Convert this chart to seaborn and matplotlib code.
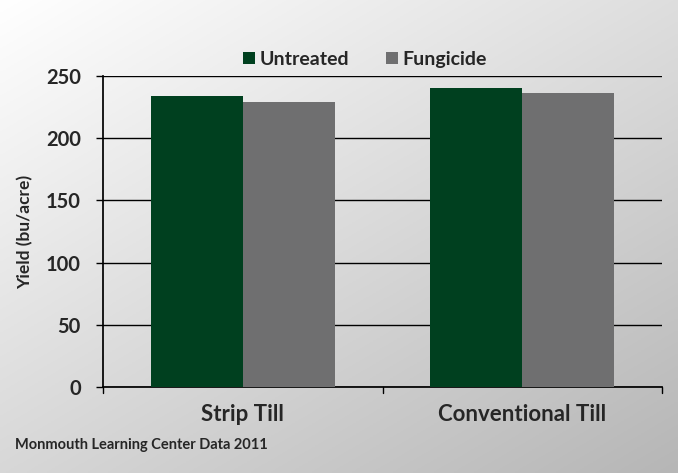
import numpy as np
import pandas as pd
import matplotlib
matplotlib.use("Agg")
import matplotlib.pyplot as plt
import seaborn as sns
from matplotlib.patches import Patch

categories = ["Strip Till", "Conventional Till"]
treatments = ["Untreated", "Fungicide"]
untreated = [234, 240]
fungicide = [229, 236]
yticks = [0, 50, 100, 150, 200, 250]
colors = {"Untreated": "#00401F", "Fungicide": "#6F6F70"}

df = pd.DataFrame({
    "Tillage": categories * 2,
    "Treatment": ["Untreated"] * 2 + ["Fungicide"] * 2,
    "Yield": untreated + fungicide,
})

sns.set_theme(style="white")
plt.rcParams["font.family"] = ["Lato", "DejaVu Sans"]

fig = plt.figure(figsize=(6.78, 4.73), dpi=100)

# gradient background
bg = fig.add_axes([0, 0, 1, 1], zorder=-10)
xx, yy = np.meshgrid(np.linspace(0, 1, 200), np.linspace(0, 1, 200))
g = 1.0 - 0.26 * (0.5 * xx + 0.6 * yy)
g = np.clip(g, 0, 1)
bg.imshow(np.dstack([g, g, g]), aspect="auto", extent=[0, 1, 0, 1], origin="upper")
bg.axis("off")

ax = fig.add_axes([103 / 678, 1 - 387 / 473, (662 - 103) / 678, (387 - 76) / 473])
ax.patch.set_alpha(0)
sns.barplot(data=df, x="Tillage", y="Yield", hue="Treatment", order=categories,
            hue_order=treatments, palette=colors, width=0.66, saturation=1,
            edgecolor="none", ax=ax, zorder=3)
ax.set_ylim(0, 250)
ax.set_xlim(-0.5, 1.5)
ax.set_yticks(yticks)
ax.set_yticklabels([str(t) for t in yticks], fontsize=14.5, fontweight="bold")
for t in yticks:
    ax.axhline(t, color="black", lw=1.0, zorder=1)
ax.set_xticks([0, 1])
ax.set_xticklabels(categories, fontsize=16, fontweight="bold")
ax.tick_params(axis="x", length=0, pad=12)
ax.tick_params(axis="y", length=5, width=1, color="black", direction="out", pad=11, left=True)
for xb in [-0.5, 0.5, 1.5]:
    ax.plot([xb, xb], [0, -0.018], transform=ax.get_xaxis_transform(), color="black",
            lw=1, clip_on=False)
for s in ["top", "right"]:
    ax.spines[s].set_visible(False)
ax.spines["left"].set_color("black")
ax.spines["bottom"].set_color("black")
ax.set_xlabel("")
ax.set_ylabel("Yield (bu/acre)", fontsize=12.5, fontweight="bold", labelpad=9)

handles = [Patch(facecolor=colors[t], edgecolor="none") for t in treatments]
ax.legend(handles, treatments, loc="lower center", bbox_to_anchor=(0.468, 0.995), ncol=2,
          frameon=False, prop={"weight": "bold", "size": 14}, handlelength=0.65,
          handleheight=0.65, handletextpad=0.2, columnspacing=1.9, borderaxespad=0.1)

fig.text(15 / 678, 1 - 445 / 473, "Monmouth Learning Center Data 2011", fontsize=10.5,
         fontweight="bold", va="center", ha="left")

fig.savefig("out.png", dpi=100)
